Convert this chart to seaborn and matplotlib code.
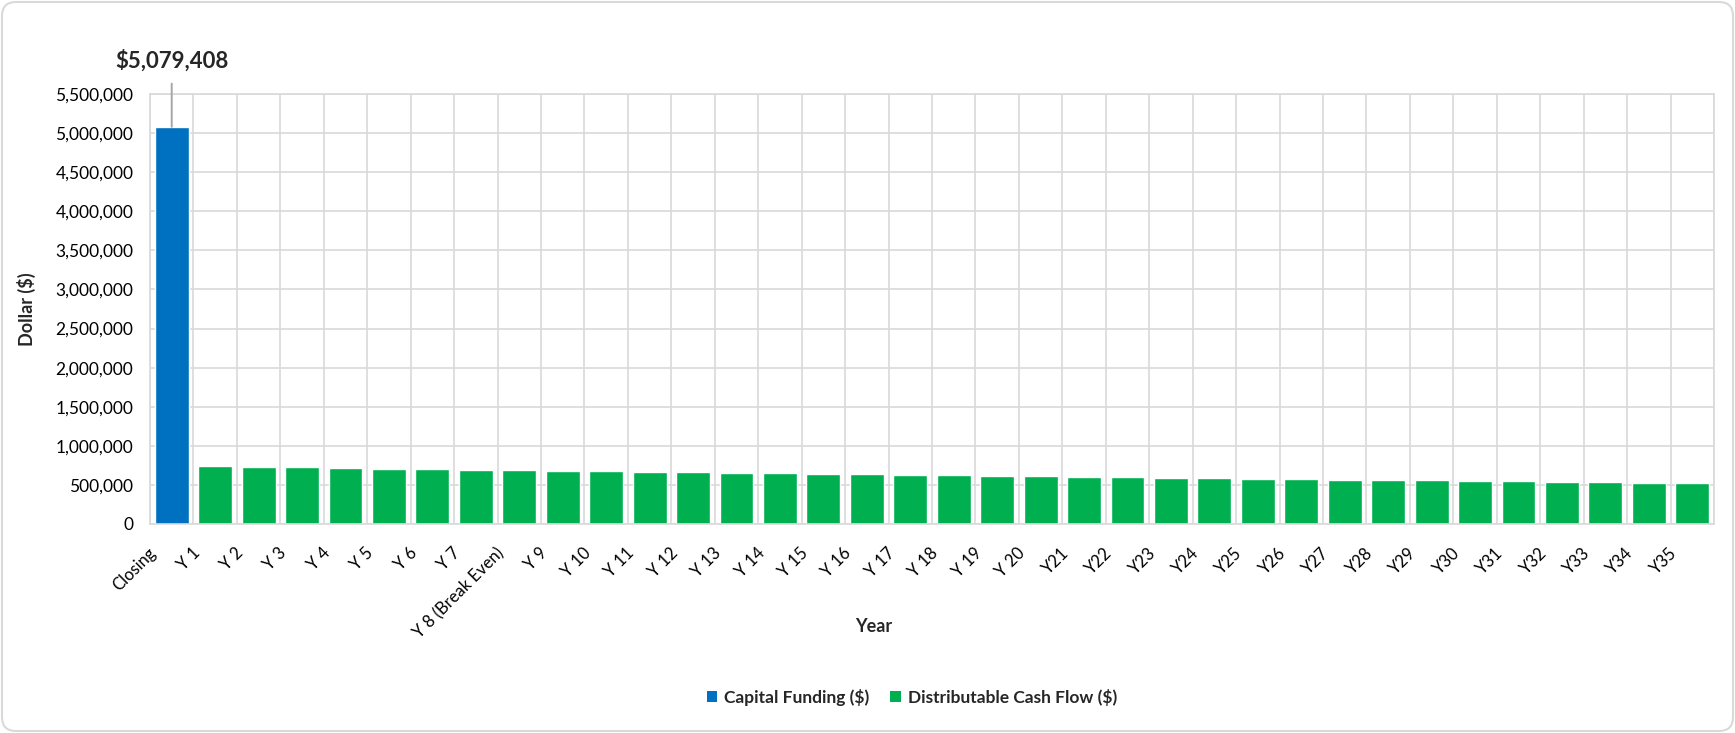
"""Capital funding vs distributable cash flow by year (bar chart)."""

import matplotlib

matplotlib.use("Agg")
import matplotlib.pyplot as plt
import matplotlib.ticker as mticker
import pandas as pd
import seaborn as sns
from matplotlib.patches import FancyBboxPatch, Patch
from matplotlib.transforms import ScaledTranslation

YEARS = ["Closing"] + [f"Y {i}" for i in range(1, 8)] + ["Y 8 (Break Even)"] + \
    [f"Y {i}" for i in range(9, 21)] + [f"Y{i}" for i in range(21, 36)]

CAPITAL_FUNDING = [5079408]
DISTRIBUTABLE_CASH_FLOW = [
    740000, 727000, 727000, 714000, 702000, 702000, 689000, 689000, 676000, 676000,
    663000, 663000, 650000, 650000, 637000, 637000, 624000, 624000, 611000, 611000,
    598000, 598000, 586000, 586000, 573000, 573000, 560000, 560000, 560000, 547000,
    547000, 534000, 534000, 521000, 521000,
]
SERIES = ["Capital Funding ($)", "Distributable Cash Flow ($)"]
COLORS = ["#0070C0", "#00B050"]
Y_TICKS = list(range(0, 5500001, 500000))

GRID = "#D9D9D9"

sns.set_theme(style="white")
plt.rcParams["font.family"] = ["Lato", "DejaVu Sans"]

df = pd.DataFrame(
    {
        "year": YEARS,
        "series": [SERIES[0]] + [SERIES[1]] * len(DISTRIBUTABLE_CASH_FLOW),
        "value": CAPITAL_FUNDING + DISTRIBUTABLE_CASH_FLOW,
    }
)

fig = plt.figure(figsize=(17.35, 7.33), dpi=100)
ax = fig.add_axes([150 / 1735, 1 - 524 / 733, 1564 / 1735, 430 / 733])

sns.barplot(
    data=df, x="year", y="value", hue="series", order=YEARS, hue_order=SERIES,
    palette=COLORS, dodge=False, width=0.78, saturation=1, legend=False, ax=ax,
)

ax.set_xlim(-0.5, len(YEARS) - 0.5)
ax.set_ylim(0, Y_TICKS[-1])
ax.set_yticks(Y_TICKS)
ax.yaxis.set_major_formatter(mticker.StrMethodFormatter("{x:,.0f}"))
ax.set_xticks(range(len(YEARS)))
ax.set_xticks([i - 0.5 for i in range(len(YEARS) + 1)], minor=True)
ax.set_axisbelow(True)
ax.yaxis.grid(True, color=GRID, linewidth=1.2)
ax.xaxis.grid(True, which="minor", color=GRID, linewidth=1.2)
ax.xaxis.grid(False, which="major")
for side in ax.spines.values():
    side.set_color(GRID)
    side.set_linewidth(1.2)
ax.tick_params(axis="both", which="both", length=0)
ax.tick_params(axis="y", labelsize=12.5, pad=12, colors="black")
ax.tick_params(axis="x", labelsize=12, pad=19, colors="black")

for lbl in ax.get_xticklabels():
    lbl.set_rotation(45)
    lbl.set_ha("right")
    lbl.set_va("center")
    lbl.set_rotation_mode("anchor")
    lbl.set_transform(lbl.get_transform() + ScaledTranslation(-0.18, 0, fig.dpi_scale_trans))

ax.set_xlabel("Year", fontsize=13, fontweight="bold", va="center")
ax.xaxis.set_label_coords((874 - 150) / 1564, (524 - 626) / 430)
ax.set_ylabel("Dollar (\\$)", fontsize=13, fontweight="bold", va="center")
ax.yaxis.set_label_coords((26 - 150) / 1564, 0.5)

ax.annotate(
    f"\\${CAPITAL_FUNDING[0]:,}",
    xy=(0, CAPITAL_FUNDING[0]), xytext=(0, 66), textcoords="offset pixels",
    ha="center", va="center", fontsize=16, fontweight="bold",
    arrowprops=dict(arrowstyle="-", color="#A6A6A6", lw=1.4, shrinkA=6, shrinkB=0,
                    relpos=(0.5, 0)),
)

handles = [Patch(facecolor=c, edgecolor="none", label=s) for s, c in zip(SERIES, COLORS)]
leg = fig.legend(
    handles=handles, loc="center", bbox_to_anchor=(912 / 1735, 1 - 697 / 733),
    ncol=2, frameon=False, handlelength=0.6, handleheight=0.6, handletextpad=0.4,
    columnspacing=1.2, prop={"weight": "bold", "size": 12.5},
)

border = FancyBboxPatch(
    (0.02, 0.02), 17.31, 7.29, boxstyle="round,pad=0,rounding_size=0.14",
    transform=fig.dpi_scale_trans, facecolor="none", edgecolor=GRID, linewidth=1.5,
)
fig.patches.append(border)

fig.savefig("out.png", dpi=100)
